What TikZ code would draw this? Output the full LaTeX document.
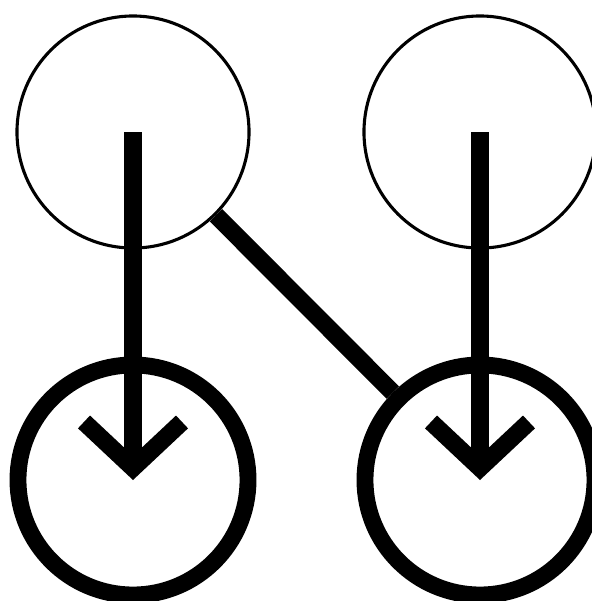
\documentclass[tikz,border=0pt]{standalone}
\usetikzlibrary{arrows.meta}
\begin{document}
\begin{tikzpicture}[
	x=0.025cm, y=-0.025cm,
	vertex/.style={ circle, draw, line width=2.2pt, inner sep=0pt, minimum size=5.8cm },
	vertexb/.style={ circle, draw, line width=12pt, inner sep=0pt, minimum size=5.75cm },
	edge/.style={ line width=12.5pt },
	arc/.style={ line width=12.5pt, -{Straight Barb[length=1.15cm, width=2.45cm]} }
]
\useasboundingbox (0,0) rectangle (592,601);

\node at (133,132) (v1) [vertex] {};
\node at (480,132) (v2) [vertex] {};

\node at (133,480) (v3) [vertexb] {};
\node at (480,480) (v4) [vertexb] {};

\draw[edge] (v1) to (v4);
\draw[arc] (v1.center) to (v3.center);
\draw[arc] (v2.center) to (v4.center);

\end{tikzpicture}
\end{document}
